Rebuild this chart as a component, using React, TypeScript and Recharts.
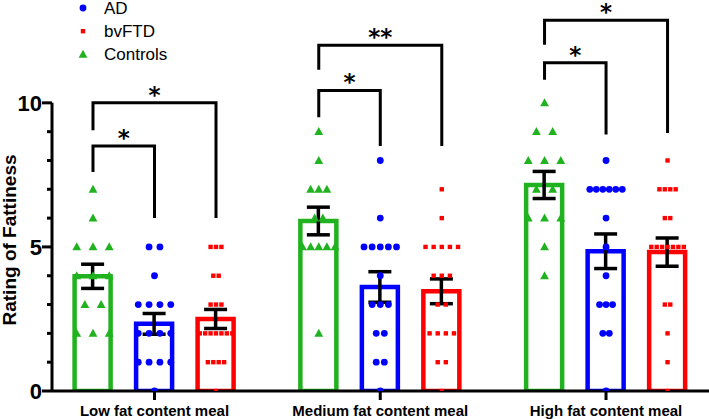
import React from "react";
import {
  Bar,
  ComposedChart,
  ErrorBar,
  Label,
  Legend,
  Line,
  ReferenceLine,
  Scatter,
  XAxis,
  YAxis,
} from "recharts";

// ---- data ----
const meals = ["Low fat content meal", "Medium fat content meal", "High fat content meal"];

const controlsLow = [7, 6, 5, 5, 5, 4, 4, 4, 3, 3, 2, 2, 2];
const controlsMedium = [9, 8, 7, 7, 7, 6, 6, 5, 5, 5, 5, 5, 2];
const controlsHigh = [10, 9, 9, 8, 8, 8, 7, 7, 6, 6, 6, 5, 4];

const adLow = [5, 5, 4, 3, 3, 3, 3, 2, 2, 2, 2, 1, 1, 1, 1, 0];
const adMedium = [8, 6, 5, 5, 5, 5, 5, 4, 3, 3, 3, 2, 2, 1, 1, 0];
const adHigh = [8, 7, 7, 7, 7, 7, 7, 6, 5, 4, 3, 3, 3, 2, 2, 0];

const ftdLow = [5, 5, 5, 4, 4, 3, 3, 3, 2, 2, 2, 2, 2, 2, 2, 1, 1, 1, 1, 0];
const ftdMedium = [7, 6, 5, 5, 5, 5, 5, 4, 4, 4, 3, 3, 2, 2, 2, 2, 1, 1, 0];
const ftdHigh = [8, 7, 7, 7, 7, 6, 6, 5, 5, 5, 5, 5, 5, 5, 3, 3, 2, 1, 0];

const controlsMean = [3.98, 5.9, 7.15];
const controlsSem = [0.42, 0.48, 0.47];
const adMean = [2.33, 3.61, 4.85];
const adSem = [0.36, 0.53, 0.6];
const ftdMean = [2.5, 3.46, 4.82];
const ftdSem = [0.33, 0.43, 0.49];

const yTicks = [0, 1, 2, 3, 4, 5, 6, 7, 8, 9, 10];
const yLabelled = [0, 5, 10];

// significance brackets: from controls (series 0) to series `to`
const brackets = [
  { group: 0, to: 1, start: 7.6, top: 8.5, end: 6.0, stars: "*" },
  { group: 0, to: 2, start: 9.05, top: 10.0, end: 6.0, stars: "*" },
  { group: 1, to: 1, start: 9.5, top: 10.43, end: 8.5, stars: "*" },
  { group: 1, to: 2, start: 11.15, top: 12.0, end: 8.5, stars: "**" },
  { group: 2, to: 1, start: 10.8, top: 11.39, end: 8.9, stars: "*" },
  { group: 2, to: 2, start: 12.02, top: 12.87, end: 8.95, stars: "*" },
];

// ---- layout ----
const W = 709;
const H = 419;
const GROUP_PX = 225.75;
const SERIES_PX = 61.5;
const SWARM_PX = 32.5;
const X_DOMAIN: [number, number] = [-0.454, 2.456];
const CAT_PAD = { left: -10.4, right: -9.9 };
const FONT = "'Liberation Sans', Arial, sans-serif";

const GREEN = "#21b21f";
const BLUE = "#0000ff";
const RED = "#ff0000";

const seriesX = (group: number, series: number) =>
  group + ((series - 1) * SERIES_PX) / GROUP_PX;

function swarm(values: number[], group: number, series: number) {
  const counts = new Map<number, number>();
  values.forEach((v) => counts.set(v, (counts.get(v) ?? 0) + 1));
  const maxRow = Math.max(...counts.values());
  const step = maxRow > 1 ? SWARM_PX / (maxRow - 1) : 0;
  const seen = new Map<number, number>();
  return values.map((v) => {
    const n = counts.get(v)!;
    const i = seen.get(v) ?? 0;
    seen.set(v, i + 1);
    const px = (i - (n - 1) / 2) * step;
    return { x: seriesX(group, series) + px / GROUP_PX, y: v };
  });
}

const controlsPts = [controlsLow, controlsMedium, controlsHigh].flatMap((v, g) => swarm(v, g, 0));
const adPts = [adLow, adMedium, adHigh].flatMap((v, g) => swarm(v, g, 1));
const ftdPts = [ftdLow, ftdMedium, ftdHigh].flatMap((v, g) => swarm(v, g, 2));

const barData = meals.map((name, i) => ({
  name,
  ctrl: controlsMean[i],
  ctrlErr: controlsSem[i],
  ad: adMean[i],
  adErr: adSem[i],
  ftd: ftdMean[i],
  ftdErr: ftdSem[i],
}));

const bracketLines = brackets.map((b) => {
  const x0 = seriesX(b.group, 0);
  const x1 = seriesX(b.group, b.to);
  return [
    { x: x0, y: b.start },
    { x: x0, y: b.top },
    { x: x1, y: b.top },
    { x: x1, y: b.end },
  ];
});

const starData = brackets.map((b) => ({
  x: (seriesX(b.group, 0) + seriesX(b.group, b.to)) / 2,
  y: b.top,
  label: b.stars,
}));

// ---- shapes ----
const Dot = ({ cx, cy }: any) => <circle cx={cx} cy={cy} r={3.4} fill={BLUE} />;
const Square = ({ cx, cy }: any) => (
  <rect x={cx - 2.2} y={cy - 2.2} width={4.4} height={4.4} fill={RED} />
);
const Triangle = ({ cx, cy }: any) => (
  <polygon
    points={`${cx},${cy - 4.6} ${cx - 4.4},${cy + 3.4} ${cx + 4.4},${cy + 3.4}`}
    fill={GREEN}
  />
);
const Star = ({ cx, cy, payload }: any) => (
  <text
    x={cx}
    y={cy}
    textAnchor="middle"
    fontFamily="'DejaVu Sans', sans-serif"
    fontWeight={700}
    fontSize={23}
    fill="#000"
  >
    {payload.label}
  </text>
);

const YTick = ({ x, y, payload }: any) => {
  const major = yLabelled.includes(payload.value);
  return (
    <g>
      <line x1={x - (major ? 10 : 5)} x2={x} y1={y} y2={y} stroke="#000" strokeWidth={3} />
      {major && (
        <text
          x={x - 10}
          y={y}
          dy="0.36em"
          textAnchor="end"
          fontFamily={FONT}
          fontWeight={700}
          fontSize={22}
          fill="#000"
        >
          {payload.value}
        </text>
      )}
    </g>
  );
};

const legendItems = [
  { name: "AD", Shape: Dot },
  { name: "bvFTD", Shape: Square },
  { name: "Controls", Shape: Triangle },
];

const LegendContent = () => (
  <svg width={120} height={68}>
    {legendItems.map(({ name, Shape }, i) => {
      const cy = 8 + i * 23.2;
      return (
        <g key={name}>
          <Shape cx={10} cy={cy} />
          <text x={31} y={cy} dy="0.35em" fontFamily={FONT} fontSize={17} fill="#000">
            {name}
          </text>
        </g>
      );
    })}
  </svg>
);

const YLabel = () => (
  <text
    x={15.5}
    y={240}
    transform="rotate(-90, 15.5, 240)"
    textAnchor="middle"
    fontFamily={FONT}
    fontWeight={700}
    fontSize={19}
    fill="#000"
  >
    Rating of Fattiness
  </text>
);

export default function App() {
  return (
    <div style={{ position: "absolute", left: 0, top: 0, width: W, height: H, background: "#fff" }}>
      <ComposedChart
        width={W}
        height={H}
        data={barData}
        margin={{ top: 2, right: 0, bottom: 0, left: 0 }}
        barGap={25.5}
      >
        <XAxis
          xAxisId="cat"
          type="category"
          dataKey="name"
          padding={CAT_PAD}
          interval={0}
          height={28}
          tickSize={9}
          tickMargin={5}
          axisLine={{ stroke: "#000", strokeWidth: 3 }}
          tickLine={{ stroke: "#000", strokeWidth: 3 }}
          tick={{ fill: "#000", fontSize: 15, fontWeight: 700, fontFamily: FONT }}
        />
        <XAxis
          xAxisId="num"
          type="number"
          dataKey="x"
          domain={X_DOMAIN}
          allowDataOverflow
          hide
        />
        <YAxis
          type="number"
          domain={[0, 13.5]}
          allowDataOverflow
          ticks={yTicks}
          interval={0}
          width={52}
          tickSize={0}
          tickMargin={0}
          axisLine={false}
          tickLine={false}
          tick={<YTick />}
        >
          <Label content={<YLabel />} />
        </YAxis>
        <Legend
          layout="vertical"
          align="center"
          verticalAlign="middle"
          wrapperStyle={{ top: 0, left: 73, width: 120, height: 68 }}
          content={<LegendContent />}
        />
        <ReferenceLine
          xAxisId="num"
          segment={[
            { x: X_DOMAIN[0], y: 0 },
            { x: X_DOMAIN[0], y: 10 },
          ]}
          stroke="#000"
          strokeWidth={3}
          ifOverflow="visible"
        />
        <Bar xAxisId="cat" dataKey="ctrl" barSize={36} fill="#fff" stroke={GREEN} strokeWidth={4.5} isAnimationActive={false} legendType="none">
          <ErrorBar dataKey="ctrlErr" width={11.5} stroke="#000" strokeWidth={3.5} direction="y" />
        </Bar>
        <Bar xAxisId="cat" dataKey="ad" barSize={36} fill="#fff" stroke={BLUE} strokeWidth={4.5} isAnimationActive={false} legendType="none">
          <ErrorBar dataKey="adErr" width={11.5} stroke="#000" strokeWidth={3.5} direction="y" />
        </Bar>
        <Bar xAxisId="cat" dataKey="ftd" barSize={36} fill="#fff" stroke={RED} strokeWidth={4.5} isAnimationActive={false} legendType="none">
          <ErrorBar dataKey="ftdErr" width={11.5} stroke="#000" strokeWidth={3.5} direction="y" />
        </Bar>
        <Scatter xAxisId="num" name="Controls" data={controlsPts} dataKey="y" shape={<Triangle />} isAnimationActive={false} />
        <Scatter xAxisId="num" name="AD" data={adPts} dataKey="y" shape={<Dot />} isAnimationActive={false} />
        <Scatter xAxisId="num" name="bvFTD" data={ftdPts} dataKey="y" shape={<Square />} isAnimationActive={false} />
        {bracketLines.map((pts, i) => (
          <Line
            key={i}
            xAxisId="num"
            data={pts}
            dataKey="y"
            type="linear"
            stroke="#000"
            strokeWidth={3}
            strokeLinejoin="miter"
            dot={false}
            activeDot={false}
            legendType="none"
            isAnimationActive={false}
          />
        ))}
        <Scatter xAxisId="num" data={starData} dataKey="y" shape={<Star />} legendType="none" isAnimationActive={false} />
      </ComposedChart>
    </div>
  );
}
